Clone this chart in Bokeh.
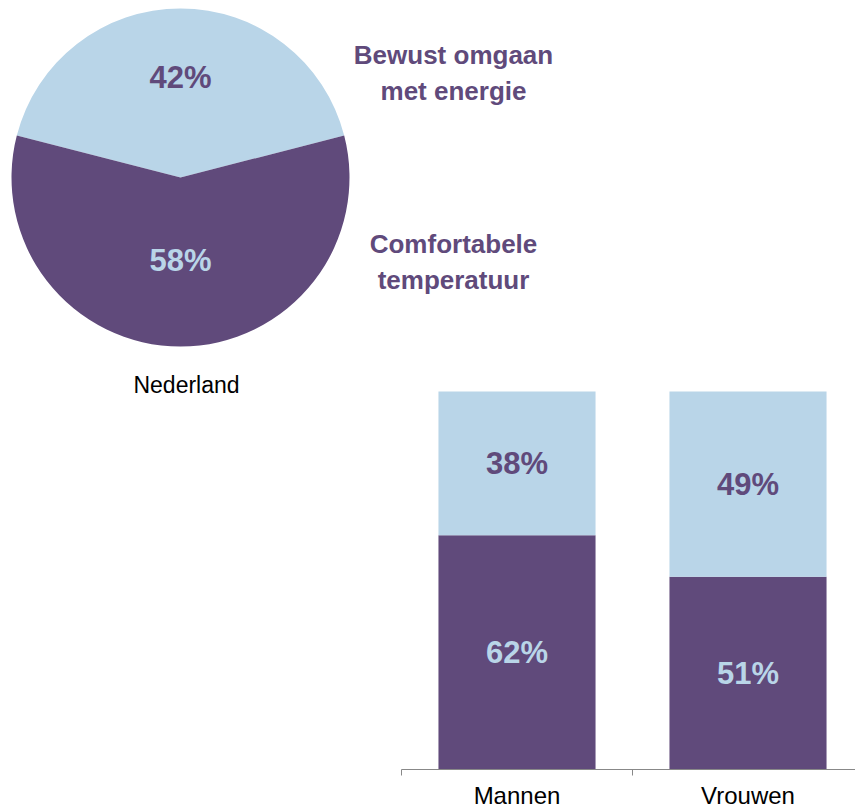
import math
from bokeh.plotting import figure
from bokeh.models import Range1d, FixedTicker, ColumnDataSource, LinearAxis
from bokeh.core.properties import value
from bokeh.embed import file_html
from bokeh.resources import INLINE

# ---- data ----
pie_labels = ["Bewust omgaan\nmet energie", "Comfortabele\ntemperatuur"]
pie_values = [42, 58]
pie_title = "Nederland"
bar_categories = ["Mannen", "Vrouwen"]
bar_comfort = [62, 51]
bar_bewust = [38, 49]

PURPLE = "#604A7B"
LIGHT = "#B9D5E8"
FONT = "Liberation Sans"

FW, FH = 855, 769          # frame size in px
BAR_UNIT = 231             # px per category
BAR_X0 = 401               # px where category axis starts
BAR_H = 378                # px for 100 %

p = figure(frame_width=FW, frame_height=FH,
           x_range=Range1d(0, FW), y_range=Range1d(0, FH),
           output_backend="svg", toolbar_location=None,
           x_axis_location=None, y_axis_location=None, min_border=0)
p.extra_x_ranges = {"bars": Range1d(-BAR_X0 / BAR_UNIT, (FW - BAR_X0) / BAR_UNIT)}
p.extra_y_ranges = {"bars": Range1d(0, 100 * FH / BAR_H)}
p.outline_line_color = None
p.grid.visible = False

# ---- pie ----
cx, cy, r = 180, FH - 177, 169
total = sum(pie_values)
a0 = math.pi / 2 - (pie_values[0] / total) * math.pi
starts, ends = [], []
cur = a0
for v in pie_values:
    starts.append(cur)
    cur += v / total * 2 * math.pi
    ends.append(cur)
p.wedge(x=cx, y=cy, radius=r, start_angle=starts, end_angle=ends,
        fill_color=[LIGHT, PURPLE], line_color=None)

mids = [(s + e) / 2 for s, e in zip(starts, ends)]
rad_f = [0.59, 0.49]
p.text(x=[cx + rad_f[i] * r * math.cos(mids[i]) for i in range(2)],
       y=[cy + rad_f[i] * r * math.sin(mids[i]) for i in range(2)],
       text=[f"{v}%" for v in pie_values],
       text_color=[PURPLE, LIGHT], text_font=value(FONT), text_font_style="bold",
       text_font_size="31px", text_align="center", text_baseline="middle")

p.text(x=[453, 453], y=[FH - 72, FH - 261], text=pie_labels,
       text_color=PURPLE, text_font=value(FONT), text_font_style="bold",
       text_font_size="26px", text_align="center", text_baseline="middle",
       text_line_height=1.2)

p.text(x=[186], y=[FH - 384], text=[pie_title], text_color="black",
       text_font=value(FONT), text_font_size="23px",
       text_align="center", text_baseline="middle")

# ---- stacked bars ----
xs = [i + 0.5 for i in range(len(bar_categories))]
src = ColumnDataSource(dict(x=xs, comfort=bar_comfort, bewust=bar_bewust,
                            top=[c + b for c, b in zip(bar_comfort, bar_bewust)]))
p.vbar(x="x", width=0.68, bottom=0, top="comfort", source=src,
       fill_color=PURPLE, line_color=None, x_range_name="bars", y_range_name="bars")
p.vbar(x="x", width=0.68, bottom="comfort", top="top", source=src,
       fill_color=LIGHT, line_color=None, x_range_name="bars", y_range_name="bars")

p.text(x=xs, y=[c / 2 for c in bar_comfort], text=[f"{c}%" for c in bar_comfort],
       text_color=LIGHT, text_font=value(FONT), text_font_style="bold",
       text_font_size="31px", text_align="center", text_baseline="middle",
       x_range_name="bars", y_range_name="bars")
p.text(x=xs, y=[c + b / 2 for c, b in zip(bar_comfort, bar_bewust)],
       text=[f"{b}%" for b in bar_bewust],
       text_color=PURPLE, text_font=value(FONT), text_font_style="bold",
       text_font_size="31px", text_align="center", text_baseline="middle",
       x_range_name="bars", y_range_name="bars")

ax = LinearAxis(x_range_name="bars", bounds=(0, 2))
ax.ticker = FixedTicker(ticks=xs, minor_ticks=[0, 1, 2])
ax.major_label_overrides = {x: c for x, c in zip(xs, bar_categories)}
ax.major_tick_line_color = None
ax.major_tick_out = 0
ax.major_tick_in = 0
ax.minor_tick_out = 6
ax.minor_tick_in = 0
ax.minor_tick_line_color = "#888888"
ax.axis_line_color = "#888888"
ax.major_label_text_font = FONT
ax.major_label_text_font_size = "24px"
ax.major_label_text_color = "black"
ax.major_label_standoff = 6
p.add_layout(ax, "below")

open("out.html", "w").write(file_html(p, INLINE))
